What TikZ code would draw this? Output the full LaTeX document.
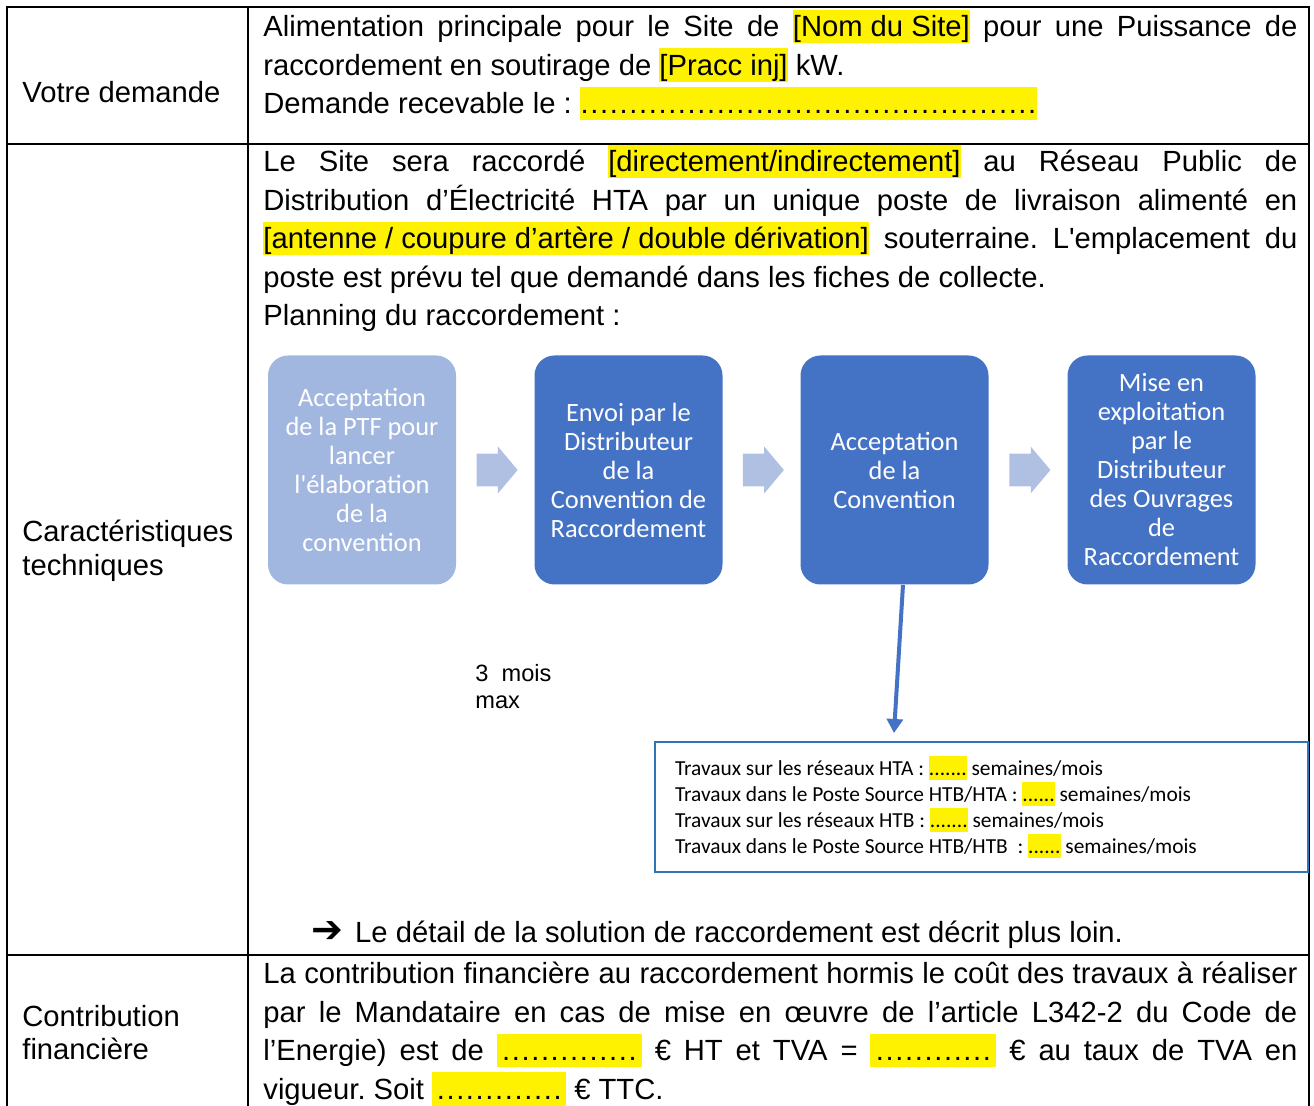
\documentclass[tikz,border=0pt]{standalone}
\usepackage{fontspec}
\setmainfont{Liberation Sans}
\newfontfamily\calibri{Carlito}
\newfontfamily\dejavu{DejaVu Sans}
\usetikzlibrary{shapes.arrows,calc,arrows.meta}

\definecolor{bleu}{HTML}{4472C4}
\definecolor{bleuclair}{HTML}{A2B7E0}
\definecolor{flechegris}{HTML}{B0C0E2}
\definecolor{cadre}{HTML}{2E75B6}

\newcommand\hl[1]{{\setlength\fboxsep{0pt}\colorbox{yellow}{\rule[-0.22em]{0pt}{1.15em}#1}}}
\newcommand\pointille[1]{\hbox to #1{\cleaders\hbox to 0.333em{\hss.\hss}\hfill}}
\newcommand\jl[1]{\makebox[517pt][s]{#1}}

\begin{document}
\begin{tikzpicture}[x=0.5pt, y=-0.5pt,
    every node/.append style = {execute at begin node={\spaceskip=0pt\xspaceskip=0pt\frenchspacing}},
    tableau/.style = {line width=1.4pt},
    texte/.style = {anchor=base west, inner sep=0pt, text width=517pt, align=flush left,
        font=\fontsize{14.6}{19.25}\selectfont},
    etiquette/.style = {anchor=base west, inner sep=0pt, align=flush left,
        font=\fontsize{14.6}{17}\selectfont},
    etape/.style = {rounded corners=10pt, fill=bleu, text=white, minimum width=94pt,
        minimum height=114.5pt, text width=88pt, inner sep=0pt, align=flush center,
        font=\calibri\fontsize{13.2}{14.5}\selectfont},
    fleche/.style = {single arrow, fill=flechegris, minimum height=20.5pt, inner xsep=0pt,
        inner ysep=8pt, single arrow head extend=3.5pt, single arrow tip angle=100},
    lien/.style = {draw=bleu, line width=2pt, -{Triangle[width=8pt,length=7pt]}}]
    \useasboundingbox (0,0) rectangle (1314,1106);

    % tableau
    \draw[tableau] (7,1106) -- (7,7) -- (1309,7) -- (1309,1106);
    \draw[tableau] (248,7) -- (248,1106);
    \draw[tableau] (7,144) -- (1309,144);
    \draw[tableau] (7,955) -- (1309,955);

    % colonne de gauche
    \node[etiquette] (votre) at (22,103) {Votre demande};
    \node[etiquette] (carac) at (22,576) {Caractéristiques\\techniques};
    \node[etiquette] (contrib) at (22,1060) {Contribution\\financière};

    % demande
    \node[texte] (demande) at (263,37) {\jl{Alimentation principale pour le Site de \hl{[Nom du Site]} pour une Puissance de}\\
        raccordement en soutirage de \hl{[Pracc inj]} kW.\\
        Demande recevable le : \hl{\pointille{228.5pt}}};

    % caracteristiques
    \node[texte] (site) at (263,172) {\jl{Le Site sera raccordé \hl{[directement/indirectement]} au Réseau Public de}\\
        \jl{Distribution d’Électricité HTA par un unique poste de livraison alimenté en}\\
        \jl{\hl{[antenne / coupure d’artère / double dérivation]} souterraine. L\textquotesingle emplacement du}\\
        poste est prévu tel que demandé dans les fiches de collecte.\\
        Planning du raccordement :};

    \node[etape, fill=bleuclair] (ptf) at (362,470) {Acceptation\\de la PTF pour\\lancer\\l\textquotesingle élaboration\\de la\\convention};
    \node[etape] (envoi) at (628.5,470) {Envoi par le\\Distributeur\\de la\\Convention de\\Raccordement};
    \node[etape] (accord) at (894.5,470) {Acceptation\\de la\\Convention};
    \node[etape] (miseexp) at (1161.5,470) {Mise en\\exploitation\\par le\\Distributeur\\des Ouvrages\\de\\Raccordement};

    \node[fleche] (f1) at ($(ptf.east)!0.5!(envoi.west)+(-5,0)$) {};
    \node[fleche] (f2) at ($(envoi.east)!0.5!(accord.west)+(-5,0)$) {};
    \node[fleche] (f3) at ($(accord.east)!0.5!(miseexp.west)+(-5,0)$) {};

    \node[anchor=base west, inner sep=0pt, align=flush left, font=\fontsize{11.8}{13.5}\selectfont] (delai) at (475,709) {3\ \ mois\\max};

    \node[draw=cadre, line width=1pt, minimum width=326.5pt, minimum height=65pt, text width=306.5pt,
        inner xsep=10pt, align=flush left, font=\calibri\fontsize{10.7}{13}\selectfont] (travaux) at (981.5,807) {Travaux sur les réseaux HTA : \hl{.......} semaines/mois\\
        Travaux dans le Poste Source HTB/HTA : \hl{......} semaines/mois\\
        Travaux sur les réseaux HTB : \hl{.......} semaines/mois\\
        Travaux dans le Poste Source HTB/HTB\ \ : \hl{......} semaines/mois};

    \coordinate (pointe) at (894,733);
    \draw[lien] ([xshift=4.25pt]accord.south) -- (pointe);

    \node[anchor=base west, inner sep=0pt, font=\fontsize{14.6}{19.25}\selectfont] (renvoi) at (311,943) {{\dejavu\bfseries\fontsize{19}{19}\selectfont ➔}\hspace{6pt}Le détail de la solution de raccordement est décrit plus loin.};

    % contribution
    \node[texte] (montant) at (263,984) {\jl{La contribution financière au raccordement hormis le coût des travaux à réaliser}\\
        \jl{par le Mandataire en cas de mise en œuvre de l’article L342-2 du Code de}\\
        \jl{l’Energie) est de \hl{\pointille{72.5pt}} € HT et TVA = \hl{\pointille{63pt}} € au taux de TVA en}\\
        vigueur. Soit \hl{\pointille{67pt}} € TTC.};
\end{tikzpicture}
\end{document}
